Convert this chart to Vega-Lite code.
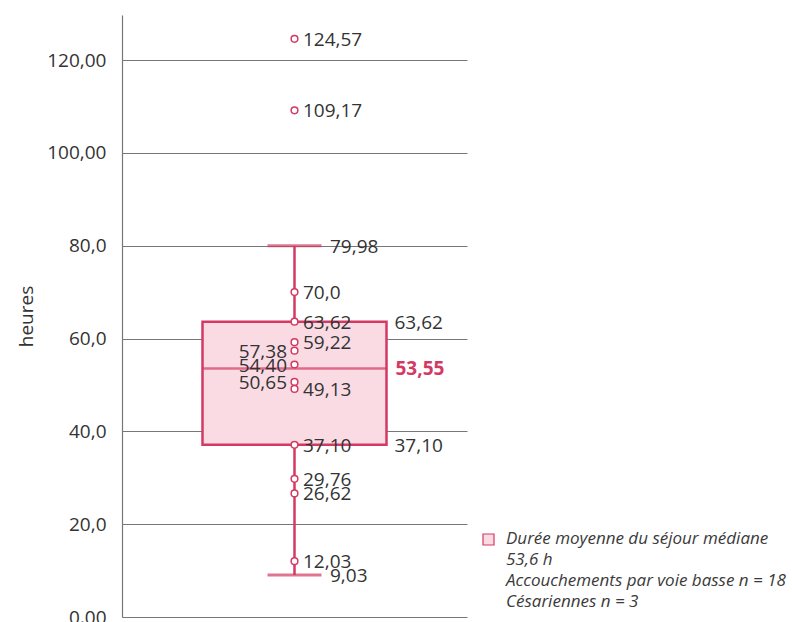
{
  "$schema": "https://vega.github.io/schema/vega-lite/v6.json",
  "width": 345,
  "height": 602,
  "autosize": {"type": "none"},
  "padding": {"left": 122, "top": 15, "right": 325, "bottom": 5},
  "background": "white",
  "datasets": {
    "boite": [
      {"groupe": "A", "min": 9.03, "q1": 37.1, "mediane": 53.55, "q3": 63.62, "max": 79.98,
       "legende": "Durée moyenne du séjour médiane|53,6 h|Accouchements par voie basse n = 18|Césariennes n = 3"}
    ],
    "points": [
      {"groupe": "A", "valeur": 124.57, "texte": "124,57", "cote": "droite"},
      {"groupe": "A", "valeur": 109.17, "texte": "109,17", "cote": "droite"},
      {"groupe": "A", "valeur": 70.0, "texte": "70,0", "cote": "droite"},
      {"groupe": "A", "valeur": 63.62, "texte": "63,62", "cote": "droite"},
      {"groupe": "A", "valeur": 59.22, "texte": "59,22", "cote": "droite"},
      {"groupe": "A", "valeur": 57.38, "texte": "57,38", "cote": "gauche"},
      {"groupe": "A", "valeur": 54.4, "texte": "54,40", "cote": "gauche"},
      {"groupe": "A", "valeur": 50.65, "texte": "50,65", "cote": "gauche"},
      {"groupe": "A", "valeur": 49.13, "texte": "49,13", "cote": "droite"},
      {"groupe": "A", "valeur": 37.1, "texte": "37,10", "cote": "droite"},
      {"groupe": "A", "valeur": 29.76, "texte": "29,76", "cote": "droite"},
      {"groupe": "A", "valeur": 26.62, "texte": "26,62", "cote": "droite"},
      {"groupe": "A", "valeur": 12.03, "texte": "12,03", "cote": "droite"}
    ],
    "etiquettes": [
      {"groupe": "A", "valeur": 63.62, "texte": "63,62", "role": "quartile"},
      {"groupe": "A", "valeur": 37.1, "texte": "37,10", "role": "quartile"},
      {"groupe": "A", "valeur": 53.55, "texte": "53,55", "role": "mediane"},
      {"groupe": "A", "valeur": 79.98, "texte": "79,98", "role": "extremite"},
      {"groupe": "A", "valeur": 9.03, "texte": "9,03", "role": "extremite"}
    ]
  },
  "encoding": {
    "x": {"field": "groupe", "type": "nominal", "axis": null,
          "scale": {"paddingInner": 0, "paddingOuter": 0}}
  },
  "layer": [
    {
      "data": {"name": "boite"},
      "mark": {"type": "rule", "color": "#d33a63", "strokeWidth": 2.5},
      "encoding": {
        "y": {"field": "min", "type": "quantitative", "title": "heures",
              "scale": {"domain": [0, 129.7], "nice": false, "zero": false},
              "axis": {
                "values": [0, 20, 40, 60, 80, 100, 120],
                "labelExpr": "datum.value == 0 ? '0,00' : datum.value >= 100 ? replace(format(datum.value, '.2f'), '.', ',') : replace(format(datum.value, '.1f'), '.', ',')"
              }},
        "y2": {"field": "max"}
      }
    },
    {
      "data": {"name": "boite"},
      "mark": {"type": "bar", "width": 184, "stroke": "#d33a63", "strokeWidth": 2.5},
      "encoding": {
        "y": {"field": "q1", "type": "quantitative", "title": "heures"},
        "y2": {"field": "q3"},
        "fill": {
          "field": "legende", "type": "nominal",
          "scale": {"range": ["#fadbe4"]},
          "legend": {
            "title": null,
            "orient": "none",
            "legendX": 358,
            "legendY": 516,
            "padding": 0,
            "symbolType": "square",
            "symbolSize": 121,
            "symbolStrokeColor": "#d33a63",
            "symbolStrokeWidth": 1.2,
            "labelExpr": "split(datum.label, '|')",
            "labelFont": "Open Sans",
            "labelFontSize": 17,
            "labelFontStyle": "italic",
            "labelColor": "#3a3a3a",
            "labelBaseline": "alphabetic",
            "labelOffset": 9,
            "labelLimit": 400
          }
        }
      }
    },
    {
      "data": {"name": "boite"},
      "mark": {"type": "tick", "color": "#d33a63", "size": 184, "thickness": 2.5},
      "encoding": {"y": {"field": "mediane", "type": "quantitative", "title": "heures"}}
    },
    {
      "data": {"name": "boite"},
      "mark": {"type": "tick", "color": "#d33a63", "size": 54, "thickness": 3},
      "encoding": {"y": {"field": "max", "type": "quantitative", "title": "heures"}}
    },
    {
      "data": {"name": "boite"},
      "mark": {"type": "tick", "color": "#d33a63", "size": 54, "thickness": 3},
      "encoding": {"y": {"field": "min", "type": "quantitative", "title": "heures"}}
    },
    {
      "data": {"name": "points"},
      "mark": {"type": "point", "shape": "circle", "size": 45, "filled": false,
               "fill": "#ffffff", "fillOpacity": 1, "stroke": "#d33a63", "strokeWidth": 1.5, "opacity": 1},
      "encoding": {"y": {"field": "valeur", "type": "quantitative", "title": "heures"}}
    },
    {
      "data": {"name": "points"},
      "transform": [{"filter": "datum.cote == 'droite'"}],
      "mark": {"type": "text", "align": "left", "baseline": "middle", "dx": 8.5, "dy": 1},
      "encoding": {
        "y": {"field": "valeur", "type": "quantitative", "title": "heures"},
        "text": {"field": "texte"}
      }
    },
    {
      "data": {"name": "points"},
      "transform": [{"filter": "datum.cote == 'gauche'"}],
      "mark": {"type": "text", "align": "right", "baseline": "middle", "dx": -7.5, "dy": 1},
      "encoding": {
        "y": {"field": "valeur", "type": "quantitative", "title": "heures"},
        "text": {"field": "texte"}
      }
    },
    {
      "data": {"name": "etiquettes"},
      "transform": [{"filter": "datum.role == 'quartile'"}],
      "mark": {"type": "text", "align": "left", "baseline": "middle", "dx": 100, "dy": 1},
      "encoding": {
        "y": {"field": "valeur", "type": "quantitative", "title": "heures"},
        "text": {"field": "texte"}
      }
    },
    {
      "data": {"name": "etiquettes"},
      "transform": [{"filter": "datum.role == 'mediane'"}],
      "mark": {"type": "text", "align": "left", "baseline": "middle", "dx": 101, "dy": 1,
               "fontWeight": "bold", "color": "#d33a63"},
      "encoding": {
        "y": {"field": "valeur", "type": "quantitative", "title": "heures"},
        "text": {"field": "texte"}
      }
    },
    {
      "data": {"name": "etiquettes"},
      "transform": [{"filter": "datum.role == 'extremite'"}],
      "mark": {"type": "text", "align": "left", "baseline": "middle", "dx": 35.5, "dy": 1},
      "encoding": {
        "y": {"field": "valeur", "type": "quantitative", "title": "heures"},
        "text": {"field": "texte"}
      }
    }
  ],
  "config": {
    "view": {"stroke": null},
    "font": "Open Sans",
    "style": {"guide-label": {"lineHeight": 21, "dy": 4}},
    "text": {"font": "Open Sans", "fontSize": 19, "color": "#333333"},
    "axisY": {
      "domainColor": "#777777",
      "domainWidth": 1.2,
      "ticks": false,
      "grid": true,
      "gridColor": "#777777",
      "gridWidth": 1,
      "labelFont": "Open Sans",
      "labelFontSize": 19,
      "labelColor": "#333333",
      "labelPadding": 16,
      "labelOffset": -4,
      "titleFont": "Open Sans",
      "titleFontSize": 19,
      "titleFontWeight": "normal",
      "titleColor": "#333333",
      "titlePadding": 10
    }
  }
}
